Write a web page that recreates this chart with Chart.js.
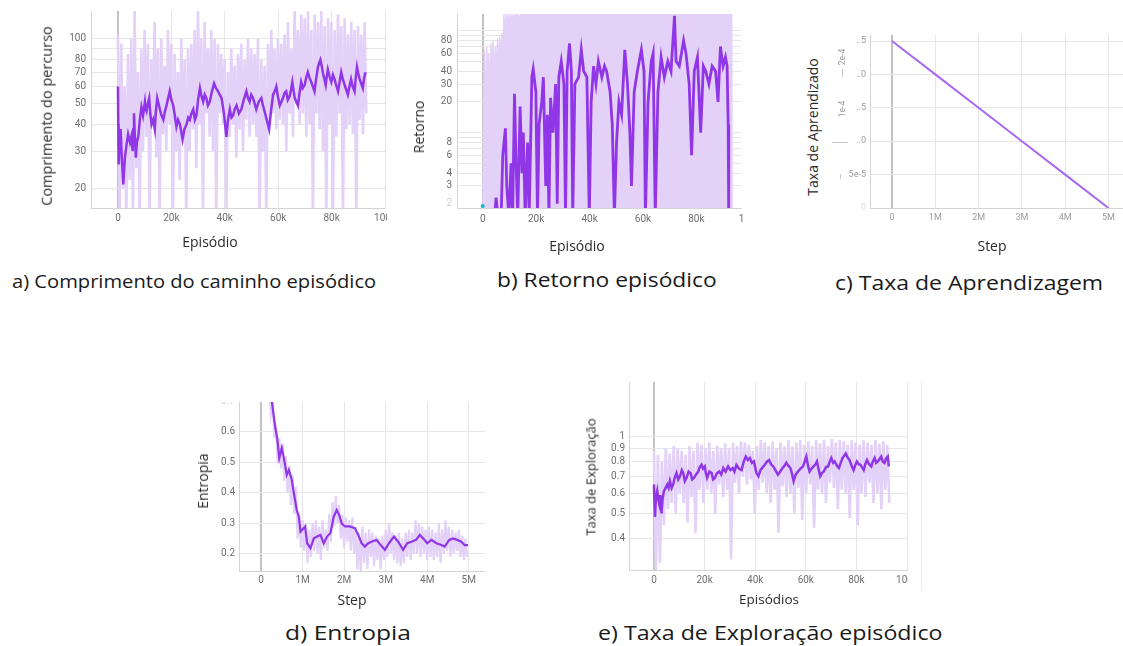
<!DOCTYPE html>
<html>
<head>
<meta charset="utf-8">
<script src="https://cdn.jsdelivr.net/npm/chart.js@4.4.0/dist/chart.umd.min.js"></script>
<style>
  body { margin: 0; width: 1123px; height: 646px; background: #fff; position: relative; overflow: hidden; font-family: 'Open Sans', sans-serif; }
  canvas { position: absolute; }
  .t { position: absolute; white-space: nowrap; color: #2a2a2a; font-size: 14px; line-height: 1; }
  .yt { transform: translate(-50%, -50%) rotate(-90deg); }
  .xt { transform: translate(-50%, -50%); }
  .cap { position: absolute; white-space: nowrap; color: #1a1a1a; line-height: 1; font-size: 20px; }
  .sm { position: absolute; font-family: Roboto, sans-serif; font-size: 8.5px; color: #9a9a9a; transform: translate(-50%, -50%) rotate(-90deg); white-space: nowrap; }
  .mk { position: absolute; background: #c8c8c8; }
</style>
</head>
<body>

<canvas id="chartA" width="336" height="222" style="left:51px;top:11px"></canvas>
<canvas id="chartB" width="328" height="223" style="left:417px;top:10px"></canvas>
<canvas id="chartC" width="293" height="198" style="left:830px;top:35px"></canvas>
<canvas id="chartD" width="286" height="194" style="left:199px;top:402px"></canvas>
<canvas id="chartE" width="319" height="213" style="left:589px;top:382px"></canvas>

<!-- axis titles -->
<div class="t yt" style="left:47px;top:116px;font-size:14.5px">Comprimento do percurso</div>
<div class="t xt" style="left:210px;top:242px">Episódio</div>
<div class="t yt" style="left:419px;top:127px">Retorno</div>
<div class="t xt" style="left:577px;top:246px">Episódio</div>
<div class="t yt" style="left:813px;top:127px">Taxa de Aprendizado</div>
<div class="t xt" style="left:992px;top:246px">Step</div>
<div class="t yt" style="left:203px;top:481px">Entropia</div>
<div class="t xt" style="left:352px;top:600px">Step</div>
<div class="t yt" style="left:591px;top:477px;font-size:13px">Taxa de Exploração</div>
<div class="t xt" style="left:769px;top:600px;font-size:13.5px">Episódios</div>

<!-- leftover tick marks of panel c -->
<div class="sm" style="left:842px;top:57px">2e-4</div>
<div class="sm" style="left:842px;top:109px">1e-4</div>
<div class="mk" style="left:842px;top:69px;width:1px;height:8px"></div>
<div class="mk" style="left:832px;top:142px;width:16px;height:1px"></div>
<div class="mk" style="left:840px;top:174px;width:1px;height:5px"></div>

<div class="mk" style="left:921px;top:380px;width:1px;height:210px;background:#ececec"></div>

<!-- captions -->
<div class="cap" style="left:12px;top:272px;font-size:19px;transform:scaleX(1.06);transform-origin:0 50%">a) Comprimento do caminho episódico</div>
<div class="cap" style="left:497px;top:270px;transform:scaleX(1.14);transform-origin:0 50%">b) Retorno episódico</div>
<div class="cap" style="left:835px;top:273px;transform:scaleX(1.15);transform-origin:0 50%">c) Taxa de Aprendizagem</div>
<div class="cap" style="left:285px;top:623px;transform:scaleX(1.23);transform-origin:0 50%">d) Entropia</div>
<div class="cap" style="left:598px;top:623px;transform:scaleX(1.16);transform-origin:0 50%">e) Taxa de Exploração episódico</div>

<script>
// ---- a) path length per episode (log y) ----
const epA = [0,120,250,600,1000,1500,2000,2600,3200,3800,4500,5000,5500,5750,6000,6300,6700,7100,7600,8200,
  8800,9400,10100,10400,10700,11200,11700,12100,12600,13200,13800,14200,14700,15200,15700,16300,17000,17600,18200,18800,
  19400,20000,20700,21300,21900,22500,23200,23700,24200,24900,25700,26300,26900,27500,28200,28800,29400,30000,30700,31300,
  31900,32500,33100,33700,34400,35200,36000,36700,37500,38100,38800,39700,40600,41200,41900,42500,43100,43700,44400,45300,
  46200,47100,48100,48700,49300,49900,50600,51200,51800,52700,53700,54300,54900,55700,56600,57300,58100,58700,59300,59900,
  60600,61200,61800,62400,63000,63600,64300,64800,65300,65700,66200,66800,67400,68000,68600,69200,69900,70500,71100,71700,
  72400,73000,73600,74200,74900,75300,75800,76300,76800,77300,77800,78200,78600,79200,79900,80500,81100,81700,82400,83000,
  83600,84200,84900,85500,86100,86700,87300,87900,88600,89000,89500,90000,90500,91100,91700,92200,92700];
const lenA = [60,40,26,33,38,27,21,28,32,36,33,35,30,38,45,36,28,33,35,42,
  48,44,51,47,46,50,53,45,40,42,38,46,53,50,47,44,42,46,49,53,
  57,52,49,44,39,42,40,37,34,38,40,43,42,45,47,42,44,52,59,54,
  51,55,53,49,51,57,62,59,57,55,53,45,35,42,47,43,44,47,49,45,
  47,52,57,53,51,55,53,50,47,51,53,49,46,42,38,46,55,57,60,54,
  49,51,53,56,57,52,54,58,63,58,53,51,49,56,63,59,61,66,70,66,
  63,60,57,65,74,77,80,75,69,65,61,67,72,67,63,68,65,61,57,63,
  70,65,61,58,55,60,65,60,57,65,74,69,65,62,59,66,70];
const rawSpanA = 93000;
const rawA = [105,14,95,20,60,14,85,22,100,14,135,25,70,14,90,30,
  110,35,95,14,80,40,120,28,90,14,100,36,75,30,110,40,
  95,14,85,30,70,22,100,35,80,14,90,30,95,38,110,25,
  135,40,100,14,120,45,90,35,110,30,100,14,95,45,85,40,
  80,14,70,35,90,40,75,28,85,38,95,30,80,42,100,35,
  90,40,85,35,100,14,80,30,75,14,95,40,110,45,90,38,
  100,42,95,40,105,30,120,45,90,35,135,50,110,40,130,45,
  125,35,135,40,110,14,130,45,120,38,135,30,115,14,125,40,
  120,14,110,35,130,45,115,14,125,38,105,40,120,36,110,14,115,42,105,36,120,45];
const gridA = [20,30,40,50,60,70,80,90,100];
const labelA = [20,30,40,50,60,70,80,100];

// ---- b) episodic return (log y) ----
const epB = [0,4400,5000,5700,6900,7500,8500,9000,9800,10600,11200,11900,12500,13100,14000,14700,15200,15900,16800,17400,
  18400,18900,19900,20500,21100,22100,22700,23600,24200,24800,25400,26300,27300,27900,28500,29400,30400,31000,31600,32500,
  33200,33700,34500,35900,36900,37800,39000,39900,40600,41500,42400,43300,44600,45600,46400,47700,48500,49300,50100,51000,
  52000,53200,54200,55100,55700,56700,57900,59400,60400,60900,61900,63100,63800,64600,65600,66800,68000,69300,70500,71800,
  72400,73600,75200,76100,77300,78200,79200,80400,81600,82600,83500,84700,85900,87200,88100,89000,90000,90900,91500,91900,92100];
const retB = [1.5,1.5,2.3,1.5,1.5,6,11,3,1.5,5,1.5,24,5,1.5,18,4,10,1.5,8,1.5,
  35,42,25,1.5,12,20,35,3,15,1.5,22,10,30,2,35,50,30,1.5,40,75,
  40,1.5,30,35,65,40,35,1.5,20,45,30,50,35,45,40,25,12,1.5,8,20,
  15,65,30,10,3,25,40,65,40,1.5,20,50,60,1.5,25,55,35,50,40,140,
  50,45,80,60,30,6,40,55,10,45,40,30,45,40,20,70,45,55,45,12,1.5];
const rawEpB = [0,300,700,1100,1500,1900,2300,2700,3100,3500,3900,4300,4700,5100,5500,5900,6300,6700,7100,7500,
  7900,8300,8700,9100,9500,10000,10500,11000,11500,12000,13000,14000,15000,93300,93500];
const rawRetB = [1.5,20,65,30,70,40,60,35,75,50,80,45,70,55,85,60,90,70,95,80,
  150,110,150,120,150,130,150,125,150,140,150,135,200,200,1.5];
const gridB = [2,3,4,5,6,7,8,9,10,20,30,40,50,60,70,80,90,100];
const labelB = [2,3,4,6,8,20,30,40,60,80];

// ---- c) learning rate ----
const stepC = [0,1,2,3,4,5];                 // millions of steps
const lrC = [2.5e-4,2e-4,1.5e-4,1e-4,5e-5,0];
const gridC = [0,5e-5,1e-4,1.5e-4,2e-4,2.5e-4];
const labelC = ['0','5e-5','..0','..5','..0','..5'];

// ---- d) entropy ----
const stepD = [0.22,0.26,0.34,0.39,0.44,0.50,0.55,0.62,0.67,0.74,0.79,0.86,0.91,0.95,1.06,1.11,1.19,1.27,1.35,1.43,
  1.51,1.59,1.67,1.75,1.82,1.88,1.94,2.02,2.14,2.26,2.34,2.42,2.50,2.58,2.66,2.78,2.88,2.98,3.08,3.20,
  3.30,3.42,3.52,3.62,3.73,3.82,3.90,4.00,4.10,4.22,4.34,4.42,4.53,4.62,4.72,4.82,4.90,4.98];
const entD = [0.76,0.70,0.617,0.579,0.514,0.547,0.514,0.459,0.475,0.443,0.399,0.344,0.322,0.273,0.29,0.235,0.219,0.251,0.257,0.262,
  0.235,0.257,0.268,0.322,0.344,0.328,0.30,0.29,0.29,0.284,0.262,0.235,0.224,0.235,0.24,0.246,0.229,0.213,0.235,0.257,
  0.24,0.213,0.235,0.24,0.246,0.262,0.251,0.235,0.246,0.235,0.229,0.224,0.246,0.251,0.246,0.24,0.229,0.229];
const rawStartD = 0.2, rawEndD = 4.96;
const rawD = [0.74,0.66,0.70,0.58,0.62,0.50,0.58,0.48,0.56,0.44,
  0.52,0.40,0.49,0.36,0.46,0.33,0.42,0.25,0.33,0.22,
  0.31,0.21,0.30,0.17,0.28,0.19,0.30,0.21,0.31,0.20,
  0.29,0.18,0.31,0.22,0.28,0.21,0.33,0.24,0.37,0.29,
  0.39,0.30,0.36,0.25,0.33,0.22,0.32,0.24,0.31,0.21,
  0.32,0.20,0.29,0.15,0.27,0.14,0.29,0.17,0.27,0.15,
  0.28,0.19,0.27,0.16,0.26,0.18,0.25,0.15,0.26,0.18,
  0.28,0.19,0.30,0.20,0.27,0.18,0.26,0.17,0.27,0.16,
  0.25,0.17,0.27,0.19,0.28,0.18,0.27,0.20,0.31,0.20,
  0.30,0.19,0.29,0.20,0.28,0.18,0.29,0.19,0.28,0.18,
  0.27,0.19,0.30,0.17,0.28,0.20,0.31,0.21,0.29,0.19,
  0.28,0.20,0.27,0.21,0.28,0.19,0.26,0.18,0.25,0.19];
const gridD = [0.2,0.3,0.4,0.5,0.6,0.7];

// ---- e) exploration rate (log y) ----
const epE = [0,200,400,800,1300,1700,2100,2500,3000,3400,3900,4600,5300,5800,6300,7000,7600,8200,8900,9600,
  10300,11000,11600,12200,12900,13700,14500,15100,15800,16600,17500,18100,18800,19400,20100,20500,21000,21900,22800,23400,
  24100,24900,25800,26600,27400,28300,29300,30200,31100,31800,32600,33600,34600,35500,36300,37100,37900,38700,39500,40000,
  40500,41300,42100,43000,43800,44700,45500,46300,47100,48000,49000,49900,50800,51600,52300,53100,53900,54500,55200,56000,
  56900,57900,58900,59600,60200,60900,61500,62300,63100,63800,64400,65000,65700,66400,67100,68000,68800,69500,70100,70800,
  71400,72300,73100,73800,74500,75100,75800,76500,77300,78100,78900,79500,80200,80900,81600,82200,82900,83500,84200,85000,
  85900,86500,87200,87800,88500,89200,89800,90400,91100,91700,92400,92800];
const expE = [0.65,0.55,0.485,0.58,0.614,0.57,0.545,0.59,0.50,0.57,0.61,0.63,0.65,0.63,0.67,0.63,0.65,0.69,0.72,0.68,
  0.70,0.74,0.72,0.67,0.69,0.73,0.72,0.68,0.69,0.71,0.73,0.76,0.776,0.75,0.765,0.72,0.69,0.73,0.72,0.68,
  0.69,0.72,0.73,0.71,0.754,0.73,0.765,0.74,0.754,0.73,0.776,0.75,0.74,0.80,0.836,0.81,0.825,0.79,0.80,0.76,
  0.72,0.70,0.74,0.76,0.776,0.80,0.81,0.78,0.765,0.74,0.71,0.73,0.754,0.77,0.79,0.77,0.754,0.72,0.67,0.71,
  0.73,0.75,0.765,0.80,0.836,0.77,0.73,0.75,0.765,0.78,0.80,0.75,0.70,0.72,0.73,0.76,0.765,0.80,0.825,0.79,
  0.80,0.77,0.754,0.79,0.825,0.84,0.86,0.83,0.81,0.77,0.74,0.77,0.80,0.78,0.776,0.76,0.74,0.78,0.81,0.78,
  0.765,0.80,0.825,0.79,0.80,0.82,0.836,0.80,0.79,0.82,0.836,0.765];
const rawSpanE = 93000;
const rawE = [0.88,0.30,0.85,0.32,0.80,0.45,0.90,0.52,0.86,0.55,0.92,0.50,
  0.90,0.60,0.88,0.55,0.85,0.46,0.92,0.58,0.88,0.42,0.95,0.62,
  0.93,0.55,0.90,0.62,0.95,0.60,0.88,0.50,0.92,0.65,0.90,0.58,
  0.94,0.62,0.90,0.33,0.95,0.66,0.92,0.60,0.96,0.70,0.95,0.65,
  0.93,0.68,0.88,0.50,0.92,0.62,0.97,0.66,0.95,0.60,0.92,0.55,
  0.96,0.62,0.90,0.42,0.95,0.64,0.92,0.58,0.97,0.60,0.92,0.50,
  0.95,0.63,0.97,0.47,0.93,0.60,0.96,0.65,0.92,0.44,0.97,0.62,
  0.94,0.60,0.97,0.55,0.92,0.66,0.98,0.63,0.95,0.52,0.97,0.62,
  0.96,0.60,0.93,0.48,0.97,0.62,0.95,0.45,0.93,0.60,0.97,0.58,
  0.95,0.66,0.93,0.55,0.97,0.60,0.94,0.52,0.96,0.62,0.93,0.55];
const gridE = [0.4,0.5,0.6,0.7,0.8,0.9,1];

const epTicks = [0,20000,40000,60000,80000,100000];
const stepTicks = [0,1,2,3,4,5];

const DARK = '#9036e6';
const LIGHT = '#e3d1f8';
const GRID = '#e6e6e6';
const ZERO = '#c2c2c2';
const TICK = '#6f6f6f';

function pairs(xs, ys) { return ys.map((y, i) => ({ x: xs[i], y })); }
function even(start, end, ys) { return ys.map((y, i) => ({ x: start + i * (end - start) / (ys.length - 1), y })); }
const epLabel = v => v === 0 ? '0' : (v / 1000) + 'k';
const mLabel = v => v === 0 ? '0' : v + 'M';

function xAxis(min, max, ticks, fmt, pad, h, extra) {
  return Object.assign({
    type: 'linear', min, max,
    afterBuildTicks: s => { s.ticks = ticks.map(v => ({ value: v })); },
    afterFit: s => { s.height = h; s.paddingLeft = 0; s.paddingRight = 0; },
    grid: {
      drawTicks: false,
      color: c => c.tick && c.tick.value === 0 ? ZERO : GRID,
      lineWidth: c => c.tick && c.tick.value === 0 ? 2 : 1
    },
    border: { color: '#d4d4d4' },
    ticks: { callback: fmt, padding: pad, autoSkip: false, maxRotation: 0, color: TICK,
             font: { family: 'Roboto', size: 10 } }
  }, extra || {});
}

function yAxis(type, min, max, ticks, fmt, w, extra) {
  return Object.assign({
    type, min, max,
    afterBuildTicks: s => { s.ticks = ticks.map(v => ({ value: v })); },
    afterFit: s => { s.width = w; s.paddingTop = 0; s.paddingBottom = 0; },
    grid: { drawTicks: false, color: GRID },
    border: { color: '#d4d4d4' },
    ticks: { callback: fmt, padding: 5, autoSkip: false, color: TICK,
             font: { family: 'Roboto', size: 10 } }
  }, extra || {});
}

function base(datasets, scales, padRight) {
  return {
    type: 'line',
    data: { datasets },
    options: {
      responsive: false, animation: false, parsing: false,
      layout: { padding: { top: 0, left: 0, bottom: 0, right: padRight } },
      plugins: { legend: { display: false }, tooltip: { enabled: false } },
      elements: { point: { radius: 0 }, line: { tension: 0 } },
      scales
    }
  };
}

const rawStyle = { borderColor: LIGHT, borderWidth: 2.6 };
const darkStyle = { borderColor: DARK, borderWidth: 2.5 };

new Chart(document.getElementById('chartA'), base([
  Object.assign({ data: pairs(epA, lenA) }, darkStyle),
  Object.assign({ data: even(0, rawSpanA, rawA) }, rawStyle)
], {
  x: xAxis(-10090, 100000, epTicks, epLabel, 4, 25),
  y: yAxis('logarithmic', 16.3, 135, gridA, v => labelA.includes(v) ? String(v) : '', 40)
}, 2));

new Chart(document.getElementById('chartB'), base([
  Object.assign({ data: [{ x: 0, y: 1.9 }], showLine: false, pointRadius: 2, pointBackgroundColor: '#21b5c9', borderWidth: 0 }),
  Object.assign({ data: pairs(epB, retB) }, darkStyle, { borderWidth: 2.8 }),
  { data: pairs(rawEpB, rawRetB), borderColor: LIGHT, borderWidth: 1, backgroundColor: LIGHT, fill: 'start' }
], {
  x: xAxis(-9630, 96700, epTicks, epLabel, 5, 25),
  y: yAxis('logarithmic', 1.82, 146, gridB, v => labelB.includes(v) ? String(v) : '', 40, {
    grid: { drawTicks: false, color: c => c.tick && c.tick.value === 2 ? 'rgba(0,0,0,0)' : GRID },
    ticks: { callback: v => labelB.includes(v) ? String(v) : '', padding: 5, autoSkip: false,
             color: c => c.tick && c.tick.value === 2 ? '#cfcfcf' : TICK, font: { family: 'Roboto', size: 10 } }
  })
}, 1));

new Chart(document.getElementById('chartC'), base([
  { data: pairs(stepC, lrC), borderColor: '#a868f0', borderWidth: 2 }
], {
  x: xAxis(-0.508, 5.335, stepTicks, mLabel, 4, 25, {
    ticks: { callback: mLabel, padding: 4, autoSkip: false, maxRotation: 0, color: '#9a9a9a', font: { family: 'Roboto', size: 9 } }
  }),
  y: yAxis('linear', 0, 2.59e-4, gridC, (v, i) => labelC[i], 40, {
    ticks: { callback: (v, i) => labelC[i], padding: 4, autoSkip: false,
             color: c => c.index === 0 ? '#dddddd' : '#9a9a9a', font: { family: 'Roboto', size: 9 } }
  })
}, 0));

new Chart(document.getElementById('chartD'), base([
  Object.assign({ data: pairs(stepD, entD) }, darkStyle, { borderWidth: 2.2 }),
  Object.assign({ data: even(rawStartD, rawEndD, rawD) }, rawStyle, { borderWidth: 2.2 })
], {
  x: xAxis(-0.53, 5.39, stepTicks, mLabel, 3, 25),
  y: yAxis('linear', 0.144, 0.698, gridD, v => v.toFixed(1), 40, {
    ticks: { callback: v => v.toFixed(1), padding: 4, autoSkip: false,
             color: c => c.tick && c.tick.value === 0.7 ? '#d0d0d0' : TICK, font: { family: 'Roboto', size: 10 } }
  })
}, 0));

new Chart(document.getElementById('chartE'), base([
  Object.assign({ data: pairs(epE, expE) }, darkStyle),
  Object.assign({ data: even(0, rawSpanE, rawE) }, rawStyle)
], {
  x: xAxis(-9860, 100000, epTicks, epLabel, 4, 25),
  y: yAxis('logarithmic', 0.312, 1.64, gridE, v => String(v), 40, {
    ticks: { callback: v => String(v), padding: 4, autoSkip: false, color: TICK, font: { family: 'Roboto', size: 10 } }
  })
}, 1));
</script>
</body>
</html>
